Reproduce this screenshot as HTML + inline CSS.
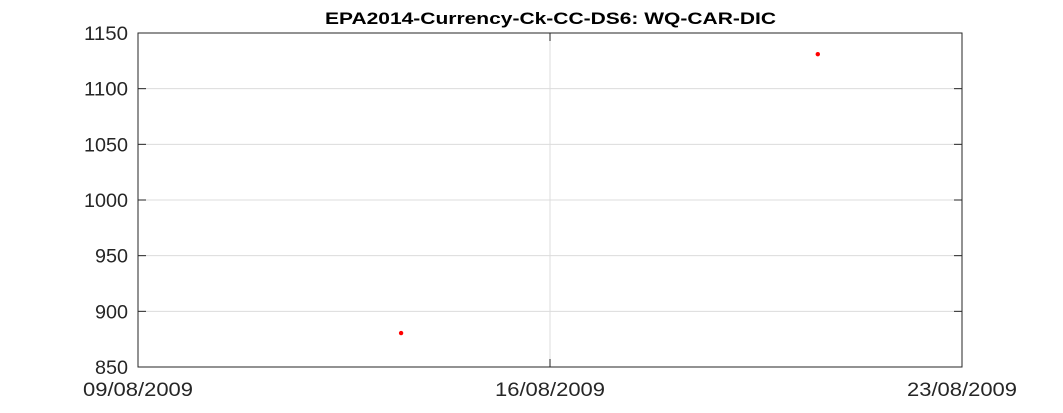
<!DOCTYPE html>
<html><head><meta charset="utf-8"><style>
body{margin:0;background:#fff;}
svg{display:block;font-family:"Liberation Sans",sans-serif;}
</style></head><body>
<svg id="chart" width="1063" height="413" xmlns="http://www.w3.org/2000/svg">
<rect x="0" y="0" width="1063" height="413" fill="#fff"/>
<text x="550.5" y="24" text-anchor="middle" font-size="17" font-weight="bold" fill="#000" textLength="451" lengthAdjust="spacingAndGlyphs">EPA2014-Currency-Ck-CC-DS6: WQ-CAR-DIC</text>
<g id="grid"></g><g id="axes"></g><g id="marks"></g>
</svg>
<script>
const yTicks=[850,900,950,1000,1050,1100,1150];
const xTickLabels=["09/08/2009","16/08/2009","23/08/2009"];
const xTickDays=[0,7,14];
const pointDays=[4.47,11.55];
const pointValues=[880.5,1131];
const L=138,R=962,T=33,B=367;
const yMin=850,yMax=1150,xMin=0,xMax=14;
const sx=d=>L+(d-xMin)/(xMax-xMin)*(R-L);
const sy=v=>B-(v-yMin)/(yMax-yMin)*(B-T);
const NS="http://www.w3.org/2000/svg";
function mk(tag,attrs,parent){const e=document.createElementNS(NS,tag);for(const k in attrs)e.setAttribute(k,attrs[k]);document.getElementById(parent).appendChild(e);return e;}
yTicks.forEach(v=>{
 const y=sy(v);
 if(v!==yMin&&v!==yMax){const g=mk('line',{x1:L,x2:R,y1:y,y2:y,stroke:'#dcdcdc','stroke-width':1},'grid');
 
 }
 const t=mk('line',{x1:L,x2:L+8,y1:y,y2:y,stroke:'#262626'},'axes');
 
 
 const t2=mk('line',{x1:R-8,x2:R,y1:y,y2:y,stroke:'#262626'},'axes');
 
 
 const s=String(v);
 const tx=mk('text',{x:L-10,y:y+7,'text-anchor':'end','font-size':19,fill:'#262626',textLength:s.length*11,lengthAdjust:'spacingAndGlyphs'},'axes');
 tx.textContent=s;
 
 
});
xTickDays.forEach((d,i)=>{
 const x=sx(d);
 if(d!==xMin&&d!==xMax){const g=mk('line',{x1:x,x2:x,y1:T,y2:B,stroke:'#dcdcdc'},'grid');
 
 }
 const t=mk('line',{x1:x,x2:x,y1:B-8,y2:B,stroke:'#262626'},'axes');
 
 
 const t2=mk('line',{x1:x,x2:x,y1:T,y2:T+8,stroke:'#262626'},'axes');
 
 
 const tx=mk('text',{x:x,y:B+29,'text-anchor':'middle','font-size':19,fill:'#262626',textLength:110,lengthAdjust:'spacingAndGlyphs'},'axes');
 tx.textContent=xTickLabels[i];
 
 
});
const box=mk('rect',{x:L,y:T,width:R-L,height:B-T,fill:'none',stroke:'#262626','stroke-width':1},'axes');


pointDays.forEach((d,i)=>{
 const c=mk('circle',{cx:sx(d),cy:sy(pointValues[i]),r:2.2,fill:'#ff0000'},'marks');
 
 
});
</script>
</body></html>
